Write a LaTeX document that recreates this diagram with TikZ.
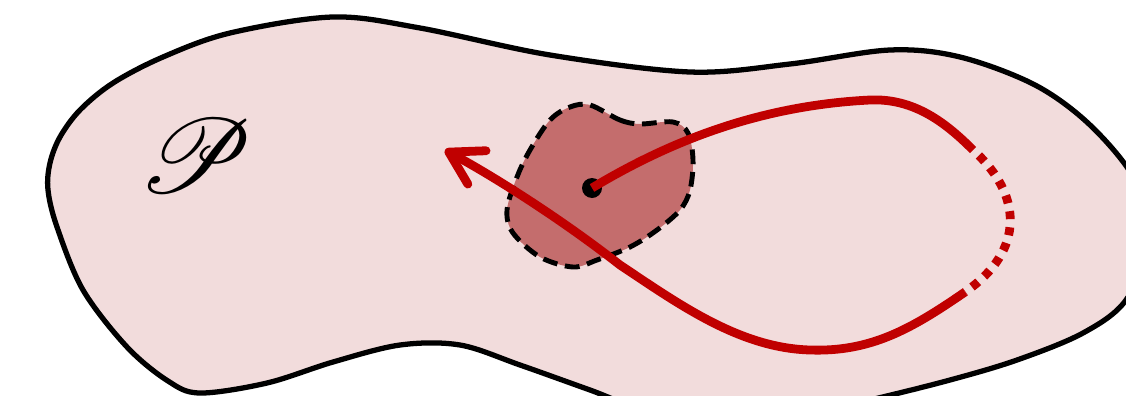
\documentclass[tikz,border=0pt]{standalone}
\usepackage{amsmath,amssymb,mathrsfs}
\usetikzlibrary{arrows.meta}
\definecolor{region}{HTML}{F2DCDC}
\definecolor{nbhd}{HTML}{C46D6D}
\definecolor{orbit}{HTML}{C00000}

\begin{document}
\begin{tikzpicture}[
  x=0.1mm, y=-0.1mm,
  every node/.style={font=\small},
  outline/.style={draw=black, line width=1.5pt, fill=region},
  nbhdline/.style={draw=black, line width=1.4pt, dash pattern=on 4.2pt off 2.2pt, fill=nbhd},
  flow/.style={draw=orbit, line width=2.5pt},
  flowdots/.style={draw=orbit, line width=2.5pt, dash pattern=on 2.3pt off 2.3pt, dash phase=2.3pt},
  tip/.style={-{Straight Barb[length=3.2mm, width=3.8mm, round]}}
]
\useasboundingbox (0,0) rectangle (1126,395);
\clip (0,0) rectangle (1126,395);

% the region
\draw[outline] plot[smooth cycle, tension=0.55] coordinates {
  (48,190) (50,163) (60,137) (80,110) (113,83) (163,57) (230,33) (333,17) (420,28)
  (550,55) (690,72) (790,64) (890,50) (960,57) (1035,85) (1090,125)
  (1135,180) (1150,240) (1126,300) (1083,333) (1017,360) (950,380)
  (870,400) (760,425) (660,415) (590,390) (520,365) (460,345) (400,345)
  (333,362) (267,383) (200,393) (168,381) (127,347) (83,290) (57,227)};
\node[scale=1.2] (lbl) at (196,156) {\fontsize{24.88}{25}\selectfont$\mathscr{P}$};

% neighbourhood of the point
\draw[nbhdline] plot[smooth cycle, tension=0.55] coordinates {
  (590,105) (620,120) (640,124) (673,122) (688,133) (693,160) (690,190)
  (680,210) (657,230) (630,247) (597,260) (573,267) (540,257) (513,233)
  (507,210) (517,177) (530,150) (550,120) (570,107)};
\node[circle, fill=black, inner sep=0pt, minimum size=2mm] (x0) at (592,188) {};

% the orbit
\coordinate (up) at (870,100);
\coordinate (sA) at (973,150);
\coordinate (sB) at (965,292);
\coordinate (low) at (810,350);
\coordinate (mid) at (620,265);
\coordinate (end) at (445,150);
\draw[flow] (x0.center) .. controls (680,135) and (770,105) .. (up)
  .. controls (915,98) and (947,124) .. (sA);
\draw[flowdots] (sA) .. controls (1022,194) and (1026,250) .. (sB);
\draw[flow, tip] (sB) .. controls (910,330) and (870,352) .. (low)
  .. controls (740,348) and (680,305) .. (mid)
  .. controls (565,222) and (500,180) .. (end);
\end{tikzpicture}
\end{document}
